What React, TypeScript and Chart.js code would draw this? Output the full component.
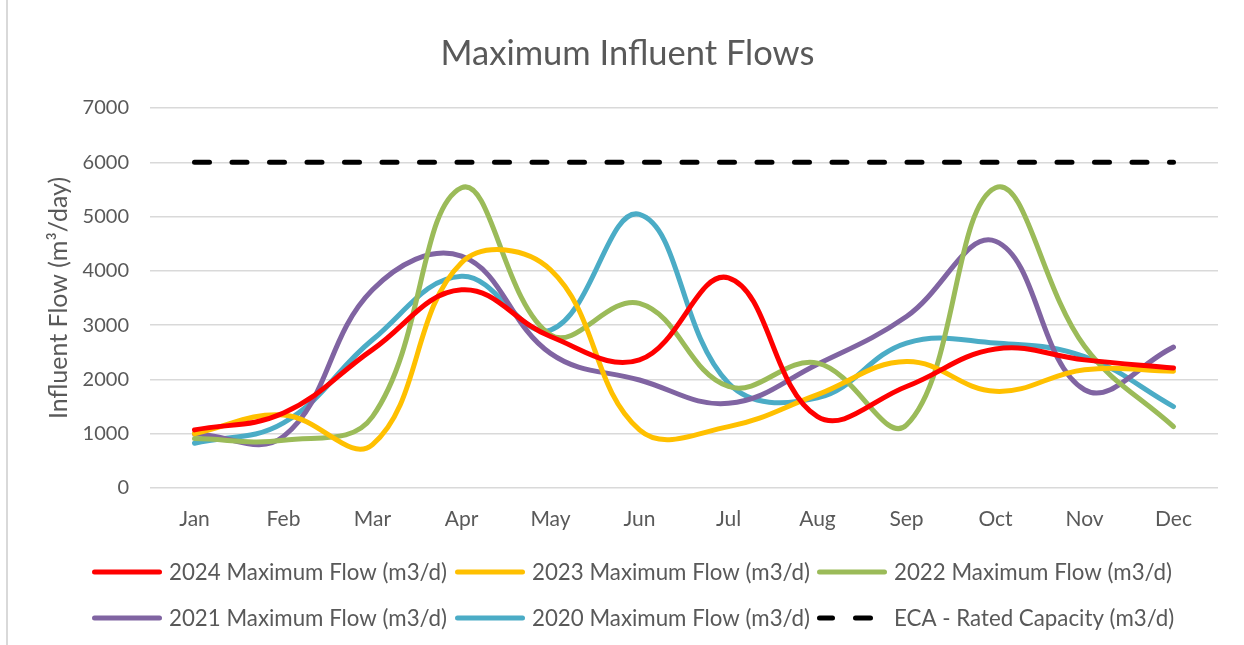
import React, { useEffect, useRef } from "react";
import { Chart, registerables } from "chart.js";

Chart.register(...registerables);

const months = ["Jan", "Feb", "Mar", "Apr", "May", "Jun", "Jul", "Aug", "Sep", "Oct", "Nov", "Dec"];
const flow2024 = [1070, 1380, 2550, 3650, 2790, 2360, 3870, 1315, 1870, 2560, 2360, 2210];
const flow2023 = [1000, 1345, 800, 4150, 4020, 1070, 1130, 1720, 2330, 1780, 2180, 2150];
const flow2022 = [910, 880, 1315, 5530, 2820, 3400, 1870, 2300, 1160, 5530, 2610, 1130];
const flow2021 = [1000, 950, 3650, 4270, 2480, 1990, 1560, 2280, 3160, 4545, 1810, 2595];
const flow2020 = [825, 1200, 2730, 3900, 2910, 5040, 1930, 1660, 2670, 2670, 2420, 1500];
const ecaCapacity = [6000, 6000, 6000, 6000, 6000, 6000, 6000, 6000, 6000, 6000, 6000, 6000];

const seriesLabels = [
  "2024 Maximum Flow (m3/d)",
  "2023 Maximum Flow (m3/d)",
  "2022 Maximum Flow (m3/d)",
  "2021 Maximum Flow (m3/d)",
  "2020 Maximum Flow (m3/d)",
  "ECA - Rated Capacity (m3/d)",
];
const seriesColors = ["#FF0000", "#FFC000", "#9BBB59", "#8064A2", "#4BACC6", "#000000"];
const chartTitle = "Maximum Influent Flows";
const yAxisTitle = "Influent Flow (m³/day)";

const FONT = "Lato, 'Open Sans', sans-serif";
const TEXT = "#595959";

// legend layout (3 columns x 2 rows, like the Excel legend)
const legendCols = [92, 455, 817];
const legendRows = [572, 618];

const titleAndLegend = {
  id: "titleAndLegend",
  afterDraw(chart: any) {
    const ctx = chart.ctx as CanvasRenderingContext2D;
    ctx.save();
    // title
    ctx.fillStyle = TEXT;
    ctx.font = `normal 34.5px ${FONT}`;
    ctx.textAlign = "center";
    ctx.textBaseline = "middle";
    ctx.fillText(chartTitle, chart.width / 2 + 5.5, 54);
    // legend
    ctx.font = `normal 22.3px ${FONT}`;
    ctx.textAlign = "left";
    chart.data.datasets.forEach((ds: any, i: number) => {
      const x = legendCols[i % 3];
      const y = legendRows[Math.floor(i / 3)];
      ctx.strokeStyle = ds.borderColor;
      ctx.lineWidth = 5;
      ctx.lineCap = "round";
      ctx.beginPath();
      if (ds.borderDash && ds.borderDash.length) {
        ctx.moveTo(x + 2.5, y);
        ctx.lineTo(x + 15.5, y);
        ctx.moveTo(x + 38.5, y);
        ctx.lineTo(x + 53.5, y);
      } else {
        ctx.moveTo(x + 2.5, y);
        ctx.lineTo(x + 67.5, y);
      }
      ctx.stroke();
      ctx.fillStyle = TEXT;
      ctx.fillText(ds.label, x + 77, y + 1);
    });
    ctx.restore();
  },
};

export default function App() {
  const ref = useRef<HTMLCanvasElement | null>(null);

  useEffect(() => {
    if (!ref.current) return;
    const values = [flow2024, flow2023, flow2022, flow2021, flow2020, ecaCapacity];
    const chart = new Chart(ref.current, {
      type: "line",
      data: {
        labels: months,
        datasets: values.map((v, i) => ({
          label: seriesLabels[i],
          data: v,
          borderColor: seriesColors[i],
          backgroundColor: seriesColors[i],
          borderWidth: 5,
          borderCapStyle: "round",
          borderJoinStyle: "round",
          borderDash: i === 5 ? [15, 22.5] : [],
          tension: i === 5 ? 0 : 0.4,
          pointRadius: 0,
          pointHoverRadius: 0,
          fill: false,
        })),
      },
      plugins: [titleAndLegend],
      options: {
        animation: false,
        responsive: true,
        maintainAspectRatio: false,
        layout: { padding: { left: 0, right: 26, top: 108, bottom: 107 } },
        plugins: {
          title: { display: false },
          legend: { display: false },
          tooltip: { enabled: false },
        },
        scales: {
          x: {
            offset: true,
            grid: { display: false, drawTicks: false, offset: true },
            border: { display: false },
            ticks: { color: TEXT, font: { family: FONT, size: 21 }, padding: 19 },
            afterFit: (s: any) => {
              s.height = 50;
            },
          },
          y: {
            min: 0,
            max: 7000,
            ticks: {
              stepSize: 1000,
              color: TEXT,
              font: { family: FONT, size: 20 },
              padding: 21,
              callback: (v: any) => String(v),
            },
            grid: { color: "#D9D9D9", lineWidth: 1.5, drawTicks: false },
            border: { display: false },
            title: {
              display: true,
              text: yAxisTitle,
              color: TEXT,
              font: { family: FONT, size: 25 },
              padding: { top: 44, bottom: 0 },
            },
            afterFit: (s: any) => {
              s.width = 150;
            },
          },
        },
      },
    });
    return () => chart.destroy();
  }, []);

  return (
    <div style={{ position: "absolute", left: 0, top: 0, width: 1244, height: 645, background: "#fff" }}>
      <div style={{ position: "absolute", left: 6, top: 0, width: 2, height: 645, background: "#D9D9D9" }} />
      <canvas ref={ref} />
    </div>
  );
}
